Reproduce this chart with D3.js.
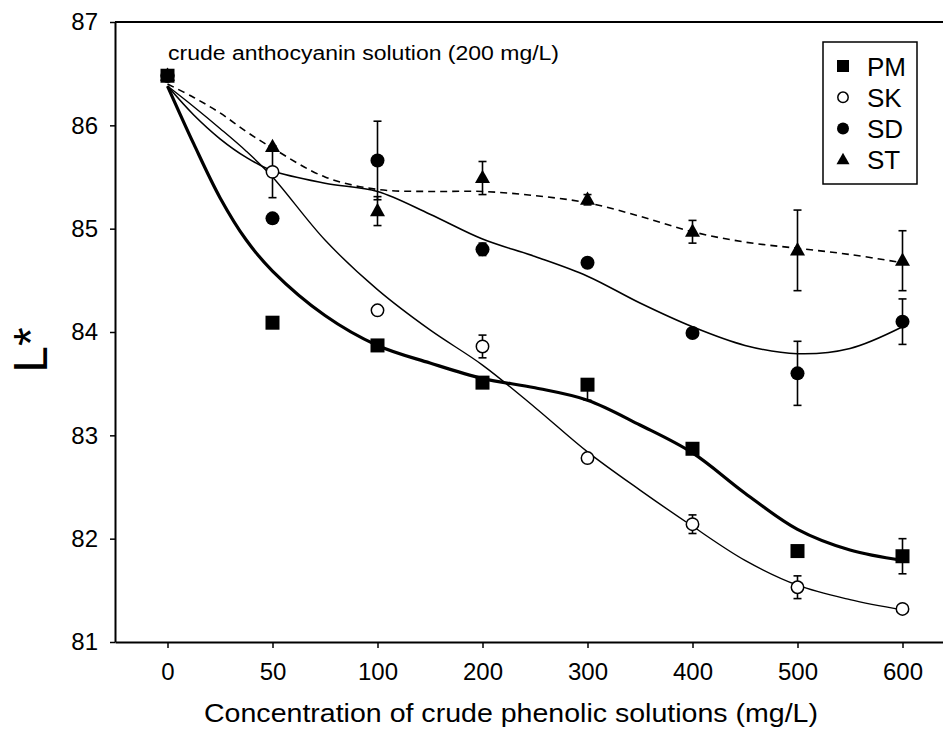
<!DOCTYPE html>
<html>
<head>
<meta charset="utf-8">
<script src="https://cdn.jsdelivr.net/npm/d3@7"></script>
<style>
  body { margin: 0; background: #fff; }
  text { font-family: "Liberation Sans", Arial, sans-serif; fill: #000; }
</style>
</head>
<body>
<svg id="chart" width="943" height="734"></svg>
<script>
// x categories (mg/L), equally spaced
var xLabels = ["0", "50", "100", "200", "300", "400", "500", "600"];
var yTicks = [81, 82, 83, 84, 85, 86, 87];

// measured L* values
var pm = [86.48, 84.09, 83.87, 83.51, 83.49, 82.87, 81.88, 81.83];
var sk = [86.48, 85.55, 84.21, 83.86, 82.78, 82.14, 81.53, 81.32];
var sd = [86.48, 85.10, 85.66, 84.80, 84.67, 83.99, 83.60, 84.10];
var st = [86.48, 85.79, 85.17, 85.49, 85.28, 84.97, 84.79, 84.69];

// error bars (up / down)
var pmErrUp = [0, 0, 0, 0, 0, 0, 0, 0.17];
var pmErrDn = [0, 0, 0, 0, 0.15, 0, 0, 0.17];
var skErrUp = [0, 0.25, 0, 0.11, 0, 0.09, 0.11, 0];
var skErrDn = [0, 0.25, 0, 0.11, 0, 0.09, 0.11, 0];
var sdErrUp = [0, 0, 0.38, 0.06, 0, 0, 0.31, 0.22];
var sdErrDn = [0, 0, 0.38, 0.06, 0, 0, 0.31, 0.22];
var stErrUp = [0, 0, 0.14, 0.16, 0.05, 0.11, 0.39, 0.29];
var stErrDn = [0, 0, 0.14, 0.16, 0.05, 0.11, 0.39, 0.29];

// fitted curves at these category positions
var fitPos = [0, 0.25, 0.5, 0.75, 1, 1.5, 2, 2.5, 3, 3.5, 4, 4.5, 5, 5.5, 6, 6.5, 7];
var pmFit = [86.38, 85.82, 85.30, 84.89, 84.59, 84.16, 83.87, 83.70, 83.55, 83.46, 83.34, 83.10, 82.83, 82.44, 82.09, 81.89, 81.79];
var skFit = [86.38, 86.18, 85.97, 85.75, 85.50, 84.89, 84.41, 84.02, 83.68, 83.27, 82.84, 82.47, 82.12, 81.79, 81.55, 81.41, 81.31];
var sdFit = [86.38, 86.10, 85.87, 85.69, 85.56, 85.44, 85.36, 85.14, 84.90, 84.73, 84.54, 84.28, 84.05, 83.87, 83.79, 83.84, 84.05];
var stFit = [86.40, 86.27, 86.12, 85.94, 85.78, 85.50, 85.38, 85.36, 85.36, 85.32, 85.25, 85.12, 84.97, 84.87, 84.81, 84.75, 84.67];

var svg = d3.select('#chart');
svg.append('rect').attr('width', 943).attr('height', 734).attr('fill', '#fff');

var plotL = 115, plotR = 943, plotT = 22, plotB = 642;
var x = d3.scaleLinear().domain([-0.5, (plotR - plotL) / 105 - 0.5]).range([plotL, plotR]);
var y = d3.scaleLinear().domain([81, 87]).range([plotB, plotT]);

// frame: top line
svg.append('line').attr('x1', plotL).attr('x2', plotR).attr('y1', plotT).attr('y2', plotT)
    .attr('stroke', '#000').attr('stroke-width', 2);

var yAxis = svg.append('g')
    .attr('transform', 'translate(' + plotL + ',0)')
    .call(d3.axisLeft(y).tickValues(yTicks).tickFormat(d3.format('d')).tickSize(5).tickSizeOuter(0).tickPadding(12));
var xAxis = svg.append('g')
    .attr('transform', 'translate(0,' + plotB + ')')
    .call(d3.axisBottom(x).tickValues(d3.range(xLabels.length)).tickFormat(function (i) { return xLabels[i]; })
        .tickSize(6).tickSizeOuter(0).tickPadding(15));
[yAxis, xAxis].forEach(function (g) {
    g.select('.domain').attr('stroke-width', 2);
    g.selectAll('.tick line').attr('stroke-width', 1.5);
    g.selectAll('text').style('font-size', '24px').style('font-family', '"Liberation Sans", Arial, sans-serif');
});

// axis titles
svg.append('text')
    .attr('x', 511).attr('y', 722)
    .attr('text-anchor', 'middle')
    .attr('textLength', 614).attr('lengthAdjust', 'spacingAndGlyphs')
    .style('font-size', '25px')
    .text('Concentration of crude phenolic solutions (mg/L)');
svg.append('text')
    .attr('transform', 'translate(47,350) rotate(-90)')
    .attr('text-anchor', 'middle')
    .style('font-size', '48px')
    .text('L*');

svg.append('text')
    .attr('x', 168).attr('y', 60)
    .attr('textLength', 391).attr('lengthAdjust', 'spacingAndGlyphs')
    .style('font-size', '20px')
    .text('crude anthocyanin solution (200 mg/L)');

// fitted curves
var fitLine = d3.line()
    .x(function (d) { return x(d[0]); })
    .y(function (d) { return y(d[1]); })
    .curve(d3.curveCatmullRom.alpha(0.5));
function drawFit(vals, width, dash) {
    svg.append('path')
        .datum(fitPos.map(function (p, i) { return [p, vals[i]]; }))
        .attr('d', fitLine)
        .attr('fill', 'none')
        .attr('stroke', '#000')
        .attr('stroke-width', width)
        .attr('stroke-dasharray', dash);
}
drawFit(stFit, 1.6, '7,5');
drawFit(sdFit, 1.6, null);
drawFit(skFit, 1.4, null);
drawFit(pmFit, 3.2, null);

// error bars
function drawErr(vals, up, dn) {
    vals.forEach(function (v, i) {
        if (!up[i] && !dn[i]) return;
        var cx = x(i), y1 = y(v + up[i]), y2 = y(v - dn[i]);
        var g = svg.append('g').attr('stroke', '#000').attr('stroke-width', 1.6);
        g.append('line').attr('x1', cx).attr('x2', cx).attr('y1', y1).attr('y2', y2);
        if (up[i]) g.append('line').attr('x1', cx - 4).attr('x2', cx + 4).attr('y1', y1).attr('y2', y1);
        if (dn[i]) g.append('line').attr('x1', cx - 4).attr('x2', cx + 4).attr('y1', y2).attr('y2', y2);
    });
}
drawErr(st, stErrUp, stErrDn);
drawErr(sd, sdErrUp, sdErrDn);
drawErr(sk, skErrUp, skErrDn);
drawErr(pm, pmErrUp, pmErrDn);

// markers
function marker(g, kind, cx, cy, s) {
    if (kind === 'square') {
        g.append('rect').attr('x', cx - s / 2).attr('y', cy - s / 2).attr('width', s).attr('height', s).attr('fill', '#000');
    } else if (kind === 'open') {
        g.append('circle').attr('cx', cx).attr('cy', cy).attr('r', s / 2 - 0.8).attr('fill', '#fff').attr('stroke', '#000').attr('stroke-width', 1.5);
    } else if (kind === 'dot') {
        g.append('circle').attr('cx', cx).attr('cy', cy).attr('r', s / 2).attr('fill', '#000');
    } else {
        var h = s * 0.95;
        g.append('path')
            .attr('d', 'M' + cx + ',' + (cy - h * 0.62) + 'L' + (cx + s / 2 + 0.5) + ',' + (cy + h * 0.38) + 'L' + (cx - s / 2 - 0.5) + ',' + (cy + h * 0.38) + 'Z')
            .attr('fill', '#000');
    }
}
var series = [
    { name: 'ST', vals: st, kind: 'tri' },
    { name: 'SD', vals: sd, kind: 'dot' },
    { name: 'SK', vals: sk, kind: 'open' },
    { name: 'PM', vals: pm, kind: 'square' }
];
series.forEach(function (s) {
    var g = svg.append('g');
    s.vals.forEach(function (v, i) { marker(g, s.kind, x(i), y(v), 14); });
});

// legend
var legend = svg.append('g');
legend.append('rect').attr('x', 823).attr('y', 42).attr('width', 94).attr('height', 142)
    .attr('fill', '#fff').attr('stroke', '#000').attr('stroke-width', 1.5);
series.slice().reverse().forEach(function (s, i) {
    var ry = 66 + i * 31.3;
    marker(legend, s.kind, 843, ry, 12);
    legend.append('text').attr('x', 867).attr('y', ry + 9.5).style('font-size', '26px').text(s.name);
});
</script>
</body>
</html>
